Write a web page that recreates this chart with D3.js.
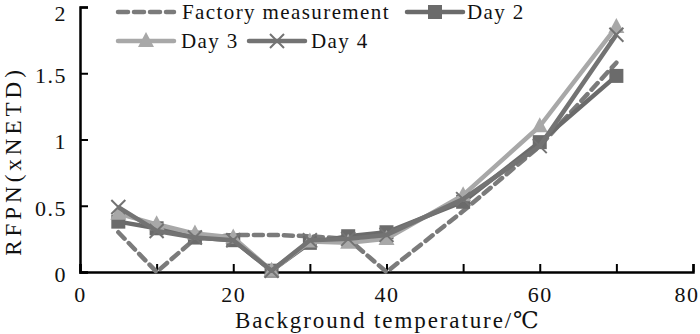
<!DOCTYPE html>
<html>
<head>
<meta charset="utf-8">
<script src="https://cdn.jsdelivr.net/npm/d3@7/dist/d3.min.js"></script>
<style>
  body { margin: 0; background: #fff; }
</style>
</head>
<body>
<svg id="chart" width="700" height="334"></svg>
<script>
// Background temperature (°C) sample points
const temps = [5, 10, 15, 20, 25, 30, 35, 40, 50, 60, 70];

// RFPN in units of NETD
const factory = [0.30, 0.00, 0.25, 0.28, 0.28, 0.27, 0.25, 0.00, 0.46, 0.95, 1.58];
const day2    = [0.38, 0.33, 0.26, 0.24, 0.01, 0.22, 0.27, 0.30, 0.53, 0.98, 1.48];
const day3    = [0.44, 0.36, 0.29, 0.26, 0.01, 0.23, 0.22, 0.25, 0.58, 1.10, 1.85];
const day4    = [0.49, 0.31, 0.26, 0.24, 0.01, 0.24, 0.25, 0.28, 0.55, 0.95, 1.79];

const xTicks = [0, 10, 20, 30, 40, 50, 60, 70, 80];
const xLabels = [0, 20, 40, 60, 80];
const yTicks = [0, 0.5, 1, 1.5, 2];

const series = [
  { name: "Factory measurement", values: factory, color: "#7b7b7b", dash: "9,6", marker: null },
  { name: "Day 2", values: day2, color: "#6b6b6b", dash: null, marker: "square" },
  { name: "Day 3", values: day3, color: "#a8a8a8", dash: null, marker: "triangle" },
  { name: "Day 4", values: day4, color: "#737373", dash: null, marker: "cross" }
];

const FONT = "'Liberation Serif', 'DejaVu Serif', serif";

const svg = d3.select("#chart");
const x = d3.scaleLinear().domain([0, 80]).range([80, 693]);
const y = d3.scaleLinear().domain([0, 2]).range([272, 7]);

// axes with inward ticks
const xAxis = svg.append("g").attr("transform", `translate(0,${y(0)})`)
  .call(d3.axisBottom(x).tickValues(xTicks).tickSize(-8).tickFormat(d => xLabels.includes(d) ? d : ""));
const yAxis = svg.append("g").attr("transform", `translate(${x(0)},0)`)
  .call(d3.axisLeft(y).tickValues(yTicks).tickSize(-8).tickFormat(d3.format("~g")));

[xAxis, yAxis].forEach(a => {
  a.attr("font-family", FONT);
  a.select(".domain").attr("stroke", "#000").attr("stroke-width", 2.5);
  a.selectAll(".tick line").attr("stroke", "#000").attr("stroke-width", 2);
  a.selectAll(".tick text").attr("font-size", 22).attr("letter-spacing", 1.5).attr("fill", "#111");
});
xAxis.selectAll(".tick text").attr("dy", null).attr("y", 30);
// last label kept inside the frame
xAxis.selectAll(".tick text").filter(d => d === 80).attr("text-anchor", "end").attr("x", 6);
yAxis.selectAll(".tick text").attr("x", -13).attr("dy", "0.42em");
yAxis.selectAll(".tick text").filter(d => d === 2).attr("dy", "0.62em");

// axis titles
svg.append("text").attr("x", 235).attr("y", 328)
  .attr("font-size", 23).attr("letter-spacing", 1.9).attr("fill", "#111").text("Background temperature/℃");
svg.append("text").attr("transform", `translate(21,161) rotate(-90)`).attr("text-anchor", "middle")
  .attr("font-size", 23).attr("letter-spacing", 4).attr("fill", "#111").text("RFPN(xNETD)");

const line = d3.line().x((d, i) => x(temps[i])).y(d => y(d));

function drawMarker(g, type, cx, cy, color) {
  if (type === "square") {
    g.append("rect").attr("x", cx - 7).attr("y", cy - 7).attr("width", 14).attr("height", 14).attr("fill", color);
  } else if (type === "triangle") {
    g.append("path").attr("d", `M${cx},${cy - 9}L${cx + 8},${cy + 6}L${cx - 8},${cy + 6}Z`).attr("fill", color);
  } else if (type === "cross") {
    g.append("path").attr("d", `M${cx - 7},${cy - 7}L${cx + 7},${cy + 7}M${cx + 7},${cy - 7}L${cx - 7},${cy + 7}`)
      .attr("stroke", color).attr("stroke-width", 2);
  }
}

const plot = svg.append("g");
series.forEach(s => {
  plot.append("path").datum(s.values).attr("d", line).attr("fill", "none")
    .attr("stroke", s.color).attr("stroke-width", 4.5)
    .attr("stroke-dasharray", s.dash).attr("stroke-linejoin", "round")
    .attr("stroke-linecap", s.dash ? "round" : "butt");
  if (s.marker) {
    const g = plot.append("g");
    s.values.forEach((v, i) => drawMarker(g, s.marker, x(temps[i]), y(v), s.color));
  }
});

// legend
const legendItems = [
  { s: series[0], x: 118, y: 12, tx: 182 },
  { s: series[1], x: 407, y: 12, tx: 467 },
  { s: series[2], x: 118, y: 41, tx: 181 },
  { s: series[3], x: 249, y: 41, tx: 311 }
];
const legend = svg.append("g");
legendItems.forEach(it => {
  const s = it.s;
  legend.append("line").attr("x1", it.x).attr("x2", it.x + 56).attr("y1", it.y).attr("y2", it.y)
    .attr("stroke", s.color).attr("stroke-width", 4.5)
    .attr("stroke-dasharray", s.dash ? "10,6" : null).attr("stroke-linecap", "round");
  if (s.marker) drawMarker(legend, s.marker, it.x + 28, it.y, s.color);
  legend.append("text").attr("x", it.tx).attr("y", it.y + 7).attr("font-size", 21)
    .attr("letter-spacing", 1.4).attr("fill", "#111").text(s.name);
});

// one serif face for every label
svg.selectAll("text").style("font-family", FONT);
</script>
</body>
</html>
